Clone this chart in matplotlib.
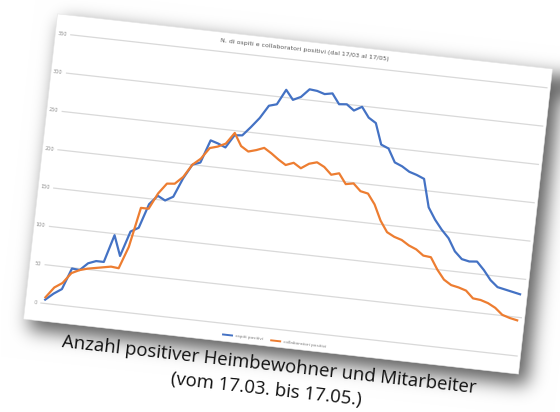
import numpy as np
import pandas as pd
import matplotlib
matplotlib.use("Agg")
import matplotlib.pyplot as plt
from matplotlib.transforms import Affine2D
from matplotlib.patches import Rectangle

# ---------------- data ----------------
dates = [d.strftime("%d/%m") for d in pd.date_range("2020-03-17", "2020-05-17")]
ospiti = [5, 14, 21, 49, 48, 58, 62, 62, 98, 72,
          105, 111, 143, 155, 150, 156, 181, 200, 204, 234,
          231, 227, 244, 245, 257, 270, 287, 290, 310, 298,
          303, 314, 313, 310, 312, 299, 300, 293, 299, 286,
          280, 253, 249, 232, 228, 222, 219, 215, 179, 164,
          152, 142, 126, 117, 115, 116, 106, 94, 86, 84,
          82, 80]
collaboratori = [8, 22, 29, 43, 48, 51, 53, 55, 57, 56,
                 85, 137, 137, 158, 172, 173, 183, 200, 209, 224,
                 227, 232, 247, 231, 225, 228, 232, 226, 219, 213,
                 217, 211, 218, 221, 216, 207, 210, 197, 199, 190,
                 188, 175, 155, 141, 136, 133, 127, 123, 116, 115,
                 100, 88, 82, 80, 77, 68, 67, 64, 59, 51,
                 48, 46]
yticks = [0, 50, 100, 150, 200, 250, 300, 350]
series_names = ["ospiti positivi", "collaboratori positivi"]
title = "N. di ospiti e collaboratori positivi (dal 17/03 al 17/05)"
caption1 = "Anzahl positiver Heimbewohner und Mitarbeiter"
caption2 = "(vom 17.03. bis 17.05.)"

BLUE = "#4472C4"
ORANGE = "#ED7D31"

# ---------------- figure ----------------
W, H = 560, 412
fig = plt.figure(figsize=(W / 100, H / 100), dpi=100)
bg = fig.add_axes([0, 0, 1, 1])
bg.axis("off")

theta = 6.35
cx, cy = 288.0, 194.0           # rotation centre (image px, y down)
rot = Affine2D().rotate_deg_around(cx, H - cy, -theta)

# card geometry (unrotated, image px)
card_x0, card_y0, card_w, card_h = 39.0, 40.5, 498.0, 307.0

# ---- soft drop shadow (decoration) ----
c, s = np.cos(np.radians(theta)), np.sin(np.radians(theta))
yy, xx = np.mgrid[0:H, 0:W].astype(float) + 0.5


def inside(offx, offy, grow):
    px = xx - offx - cx
    py = yy - offy - cy
    ux = cx + px * c + py * s
    uy = cy - px * s + py * c
    return ((ux >= card_x0 - grow) & (ux <= card_x0 + card_w + grow) &
            (uy >= card_y0 - grow) & (uy <= card_y0 + card_h + grow)).astype(float)


def gblur(a, sigma):
    r = int(3 * sigma)
    t = np.arange(-r, r + 1)
    k = np.exp(-t ** 2 / (2 * sigma ** 2))
    k /= k.sum()
    p = np.pad(a, r, mode="edge")
    p = np.apply_along_axis(lambda v: np.convolve(v, k, mode="valid"), 1, p)
    p = np.apply_along_axis(lambda v: np.convolve(v, k, mode="valid"), 0, p)
    return p


shadow = gblur(inside(7, 9, 2), 9.0)
shade = 1.0 - 0.62 * shadow
img = np.dstack([shade, shade, shade])
bg.imshow(img, extent=(0, W, H, 0), zorder=0, interpolation="bilinear", aspect="auto")
bg.set_xlim(0, W)
bg.set_ylim(H, 0)

btr = bg.transData + rot
bg.add_patch(Rectangle((card_x0, card_y0), card_w, card_h, transform=btr,
                       facecolor="white", edgecolor="#e6e6e6", lw=0.4, zorder=1))

# ---- chart axes in the unrotated frame ----
ax_l, ax_r, ax_t, ax_b = 54.5, 533.6, 59.8, 329.7
ax = fig.add_axes([ax_l / W, (H - ax_b) / H, (ax_r - ax_l) / W, (ax_b - ax_t) / H])
ax.axis("off")
ax.patch.set_visible(False)
ax.set_xlim(-0.5, len(dates) - 0.5)
ax.set_ylim(yticks[0], yticks[-1])
tr = ax.transData + rot
ytr = ax.get_yaxis_transform() + rot

for v in yticks:
    ax.plot([0, 1], [v, v], transform=ytr, color="#d9d9d9", lw=0.9,
            clip_on=False, zorder=2)
    ax.text(-0.008, v, str(v), transform=ytr, ha="right", va="center",
            rotation=-theta, rotation_mode="anchor", fontsize=3.6,
            color="#8c8c8c", zorder=3)

x = np.arange(len(dates))
ax.plot(x, ospiti, color=BLUE, lw=1.6, transform=tr, clip_on=False,
        solid_joinstyle="round", zorder=4)
ax.plot(x, collaboratori, color=ORANGE, lw=1.6, transform=tr, clip_on=False,
        solid_joinstyle="round", zorder=4)

# title
bg.text(289, 49, title, transform=btr, ha="center", va="center",
        rotation=-theta, rotation_mode="anchor", fontsize=4.5,
        color="#595959", zorder=3)

# legend (manual, so it can follow the rotation)
leg = [(238.0, 340.8, BLUE, series_names[0]), (286.5, 341.3, ORANGE, series_names[1])]
for lx, ly, col, name in leg:
    bg.plot([lx, lx + 11], [ly, ly], color=col, lw=1.4, transform=btr,
            solid_capstyle="butt", zorder=3)
    bg.text(lx + 13.5, ly, name, transform=btr, ha="left", va="center",
            rotation=-theta, rotation_mode="anchor", fontsize=3.1,
            color="#7f7f7f", zorder=3)

# caption
for txt, ty in [(caption1, 366), (caption2, 391)]:
    bg.text(288, ty, txt, transform=btr, ha="center", va="center",
            rotation=-theta, rotation_mode="anchor", fontsize=13.3,
            family=["Open Sans", "DejaVu Sans"], color="#111111", zorder=5)

fig.savefig("out.png", dpi=100)
